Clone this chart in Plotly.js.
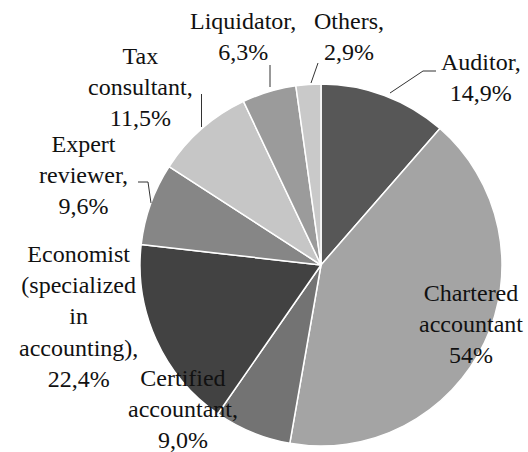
<!DOCTYPE html>
<html>
<head>
<meta charset="utf-8">
<script src="https://cdn.plot.ly/plotly-3.0.1.min.js"></script>
<style>
html,body{margin:0;padding:0;background:#fff;}
#chart{width:528px;height:452px;}
</style>
</head>
<body>
<div id="chart"></div>
<script>
// Data
var categories = ["Auditor", "Chartered accountant", "Certified accountant", "Economist (specialized in accounting)", "Expert reviewer", "Tax consultant", "Liquidator", "Others"];
var values = [14.9, 54, 9.0, 22.4, 9.6, 11.5, 6.3, 2.9];
var valueLabels = ["14,9%", "54%", "9,0%", "22,4%", "9,6%", "11,5%", "6,3%", "2,9%"];
var labelTexts = [
  "Auditor,<br>14,9%",
  "Chartered<br>accountant<br>54%",
  "Certified<br>accountant,<br>9,0%",
  "Economist<br>(specialized<br>in<br>accounting),<br>22,4%",
  "Expert<br>reviewer,<br>9,6%",
  "Tax<br>consultant,<br>11,5%",
  "Liquidator,<br>6,3%",
  "Others,<br>2,9%"
];
var colors = ["#575757", "#a4a4a4", "#737373", "#424242", "#868686", "#c6c6c6", "#9b9b9b", "#c9c9c9"];

var W = 528, H = 452;
function px(x){ return x / W; }
function py(y){ return 1 - y / H; }

// label block centres (pixels)
var labelX = [481, 471, 183, 78, 83, 140, 243, 349];
var labelY = [77, 324, 409, 316, 175, 87, 36, 36];

var annotations = labelTexts.map(function(t, i){
  return {
    text: t, xref: 'paper', yref: 'paper',
    x: px(labelX[i]), y: py(labelY[i]),
    xanchor: 'center', yanchor: 'middle', showarrow: false, align: 'center',
    font: {family: 'Liberation Serif', size: 24, color: '#111'}
  };
});

function pathPx(pts){
  return pts.map(function(p, i){ return (i ? 'L' : 'M') + px(p[0]) + ',' + py(p[1]); }).join(' ');
}
var leaders = [
  [[436, 71], [423, 71], [390, 93]],
  [[318, 63], [311, 83]],
  [[270, 65], [270, 87]],
  [[201.5, 94], [201.5, 127]],
  [[138, 182], [148, 182], [151, 203]]
];
var shapes = leaders.map(function(l){
  return {type: 'path', xref: 'paper', yref: 'paper', path: pathPx(l), line: {color: '#333', width: 1}};
});

var trace = {
  type: 'pie',
  labels: categories,
  values: values,
  sort: false,
  direction: 'clockwise',
  rotation: 0,
  textinfo: 'none',
  hoverinfo: 'label+text',
  text: valueLabels,
  marker: {colors: colors, line: {color: '#ffffff', width: 1.5}},
  domain: {x: [140 / W, 502 / W], y: [1 - 446 / H, 1 - 84 / H]},
  showlegend: false
};

Plotly.newPlot('chart', [trace], {
  width: W, height: H,
  margin: {l: 0, r: 0, t: 0, b: 0},
  paper_bgcolor: '#fff',
  showlegend: false,
  annotations: annotations,
  shapes: shapes
}, {staticPlot: true});
</script>
</body>
</html>
